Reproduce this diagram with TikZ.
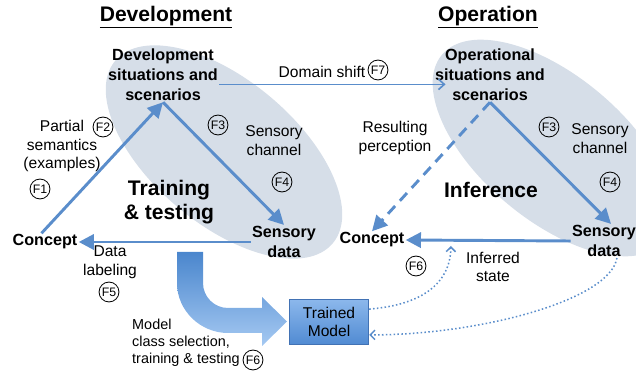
\documentclass[tikz,border=0pt]{standalone}
\usepackage{fontspec}
\setmainfont{Liberation Sans}
\usetikzlibrary{arrows.meta}

\definecolor{ellgray}{RGB}{214,222,232}
\definecolor{flowblue}{RGB}{90,141,203}
\definecolor{fatdark}{RGB}{74,134,205}
\definecolor{fatlight}{RGB}{165,201,242}
\definecolor{boxtop}{RGB}{140,184,236}
\definecolor{boxbottom}{RGB}{80,138,210}
\definecolor{boxedge}{RGB}{66,114,180}

\newcommand{\headfont}{\fontsize{18}{21}\selectfont\bfseries}
\newcommand{\bigbold}{\fontsize{18}{21}\selectfont\bfseries}
\newcommand{\boldlabel}{\fontsize{13.8}{17}\selectfont\bfseries}
\newcommand{\plainlabel}{\fontsize{13.3}{16}\selectfont}
\newcommand{\smalllabel}{\fontsize{12.3}{14.5}\selectfont}
\newcommand{\fnumfont}{\fontsize{10.5}{12}\selectfont}

\begin{document}
\begin{tikzpicture}[x=0.3mm, y=-0.3mm]

\useasboundingbox (0,0) rectangle (636,373);

% the two gray areas
\fill [ellgray, rotate around={-40:(224,152)}] (224,152) ellipse (142 and 72);
\fill [ellgray, rotate around={-40:(553,148)}] (553,148) ellipse (145 and 72);

\node (devHead) at (166,17) [font=\headfont] {\underline{Development}};
\node (opHead) at (488,17) [font=\headfont] {\underline{Operation}};

\begin{scope}[every node/.style={font=\boldlabel, align=center, inner sep=1pt}]
    \node (devS) at (163,75) {Development\\situations and\\scenarios};
    \node (opS) at (490,75) {Operational\\situations and\\scenarios};

    \node (conL) at (45,242) {Concept};
    \node (senL) at (284,242) {Sensory\\data};
    \node (conR) at (372,240) {Concept};
    \node (senR) at (604,241) {Sensory\\data};
\end{scope}

\node (train) at (169,202) [font=\bigbold, align=center] {Training\\\& testing};
\node (infer) at (491,190) [font=\bigbold] {Inference};

\begin{scope}[every node/.style={font=\plainlabel, align=center, inner sep=1pt}]
    \node (partial) at (62,146) {Partial\\semantics\\(examples)};
    \node (chanL) at (274,141) {Sensory\\channel};
    \node (labeling) at (110,262) {Data\\labeling};
    \node (shift) at (322,72) {Domain shift};
    \node (result) at (395,138) {Resulting\\perception};
    \node (chanR) at (600,139) {Sensory\\channel};
    \node (state) at (493,267) {Inferred\\state};
\end{scope}

\node (select) at (132,343) [anchor=west, font=\smalllabel, align=left, inner sep=0pt]
    {Model\\class selection,\\training \& testing};

\begin{scope}[every node/.style={circle, draw, line width=0.7pt, inner sep=0pt,
                                  minimum size=17pt, font=\fnumfont}]
    \node (f1) at (40,189) {F1};
    \node (f2) at (103,127) {F2};
    \node (f3l) at (218,125) {F3};
    \node (f4l) at (282,182) {F4};
    \node (f5) at (109,292) {F5};
    \node (f6l) at (253,360) {F6};
    \node (f7) at (378,70) {F7};
    \node (f3r) at (549,127) {F3};
    \node (f4r) at (610,182) {F4};
    \node (f6r) at (416,266) {F6};
\end{scope}

% big bent arrow into the model
\shade [top color=fatdark, bottom color=fatlight]
    (177,252) -- (177,283) .. controls (177,310.6) and (200.4,333) .. (228,333)
    -- (262,333) -- (262,346) -- (287,321.5) -- (262,297) -- (262,308)
    -- (228,308) .. controls (214.2,308) and (203,296.8) .. (203,283)
    -- (203,252) -- cycle;

\node (model) at (329,322) [draw=boxedge, line width=0.6pt, top color=boxtop,
    bottom color=boxbottom, minimum width=68pt, minimum height=39pt,
    align=center, font=\plainlabel] {Trained\\Model};

\coordinate (infTip) at (451,246);

\begin{scope}[>={Triangle[length=13pt,width=13pt]},
              every edge/.style={draw=flowblue, line width=2.5pt}]
    \path [->] ([xshift=-3pt]conL.north) edge (devS.south);
    \path [->] (devS.south) edge (senL.north);
    \path [->] (senL.west) edge (conL.east);
    \path [->] (opS.south) edge ([xshift=6pt]senR.north);
    \path [->] (senR.west) edge (conR.east);
    \path [->] (opS.south) edge [dash pattern=on 9pt off 6pt] (conR.north);
\end{scope}

\draw [flowblue, line width=1.4pt, -{Straight Barb[length=5pt,width=9pt]}]
    ([yshift=-8pt]devS.east) -- ([yshift=-8pt,xshift=10pt]opS.west);

\begin{scope}[flowblue, line width=1.3pt, dotted,
              >={Straight Barb[length=4pt,width=8pt]}]
    \draw [->] ([yshift=11pt]model.east) .. controls (420,305) and (450,285) .. (infTip);
    \draw [->] ([xshift=11pt]senR.south) .. controls (610,300) and (480,335) .. ([yshift=-11pt]model.east);
\end{scope}

\end{tikzpicture}
\end{document}
